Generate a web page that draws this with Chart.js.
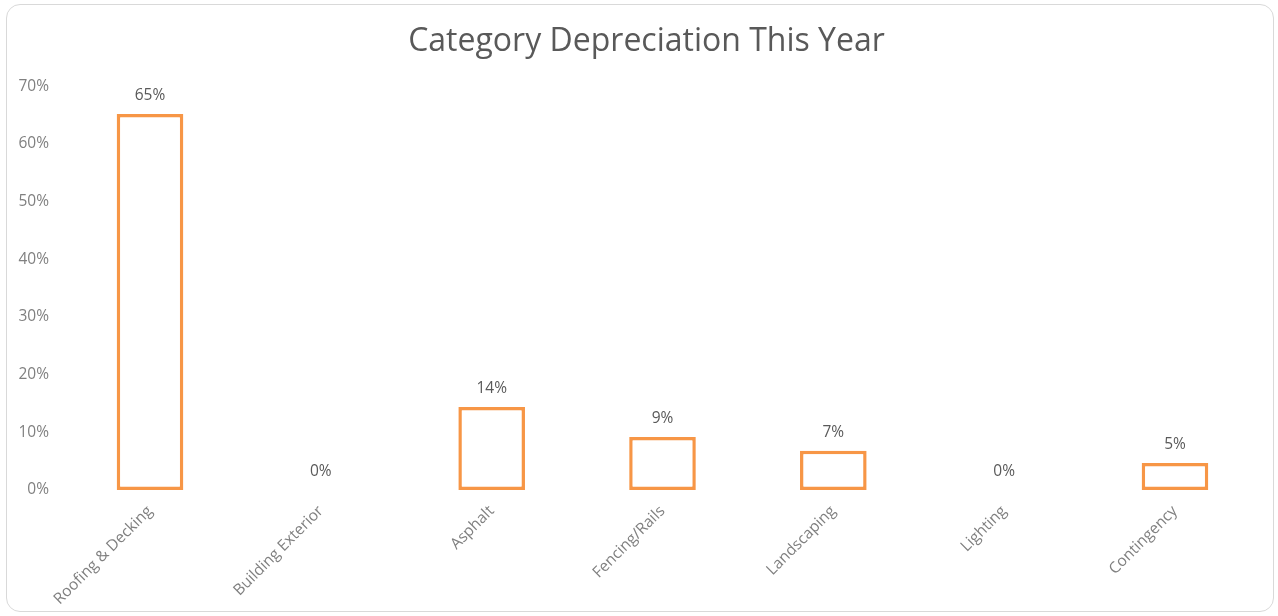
<!DOCTYPE html>
<html>
<head>
<meta charset="utf-8">
<script src="https://cdn.jsdelivr.net/npm/chart.js@4"></script>
<style>
    html, body { margin: 0; padding: 0; background: #fff; }
    .card {
        position: absolute; left: 6px; top: 4px;
        width: 1268px; height: 608px; box-sizing: border-box;
        border: 1px solid #d9d9d9; border-radius: 14px; background: #fff;
    }
    .card canvas { display: block; }
</style>
</head>
<body>
<div class="card"><canvas id="grafico" width="1266" height="606"></canvas></div>
<script>
    // --- Dados ---
    const categorias = ['Roofing & Decking', 'Building Exterior', 'Asphalt', 'Fencing/Rails', 'Landscaping', 'Lighting', 'Contingency'];
    const depreciacao = [65.2, 0, 14.4, 9.2, 6.8, 0, 4.7];
    const ticksY = [0, 10, 20, 30, 40, 50, 60, 70];

    const laranja = '#F79646';

    // rótulos em cima das barras
    const rotulos = {
        id: 'rotulos',
        afterLayout(chart) {
            // título um pouco à direita, como no original
            if (chart.titleBlock) chart.titleBlock.left += 25.6;
        },
        afterDatasetsDraw(chart) {
            const ctx = chart.ctx;
            const meta = chart.getDatasetMeta(0);
            ctx.save();
            ctx.font = '15.5px "Open Sans"';
            ctx.fillStyle = '#595959';
            ctx.textAlign = 'center';
            ctx.textBaseline = 'middle';
            meta.data.forEach((bar, i) => {
                ctx.fillText(Math.round(depreciacao[i]) + '%', bar.x, bar.y - 18.5);
            });
            ctx.restore();
        }
    };

    new Chart(document.getElementById('grafico'), {
        type: 'bar',
        data: {
            labels: categorias,
            datasets: [{
                data: depreciacao,
                backgroundColor: '#ffffff',
                borderColor: laranja,
                borderWidth: ctx => ctx.raw === 0 ? 0 : 3.5,
                borderSkipped: false,
                categoryPercentage: 1,
                barPercentage: 0.39
            }]
        },
        options: {
            responsive: false,
            animation: false,
            layout: { padding: { left: 0, right: 12.6, top: 0, bottom: 0 } },
            plugins: {
                legend: { display: false },
                tooltip: { enabled: false },
                title: {
                    display: true,
                    text: 'Category Depreciation This Year',
                    color: '#595959',
                    font: { family: '"Open Sans"', size: 32, weight: 'normal' },
                    padding: { top: 18, bottom: 25 }
                }
            },
            scales: {
                x: {
                    grid: { display: false, drawTicks: false },
                    border: { display: false },
                    ticks: {
                        color: '#808080',
                        font: { family: '"Open Sans"', size: 15.5 },
                        minRotation: 45, maxRotation: 45,
                        padding: 12
                    },
                    afterFit(scale) { scale.height = 121; }
                },
                y: {
                    min: 0, max: 70,
                    grid: { display: false, drawTicks: false },
                    border: { display: false },
                    afterBuildTicks(scale) { scale.ticks = ticksY.map(v => ({ value: v })); },
                    ticks: {
                        color: '#808080',
                        font: { family: '"Open Sans"', size: 15.5 },
                        padding: 15.6,
                        callback: v => v + '%'
                    },
                    afterFit(scale) { scale.width = 57.6; }
                }
            }
        },
        plugins: [rotulos]
    });
</script>
</body>
</html>
